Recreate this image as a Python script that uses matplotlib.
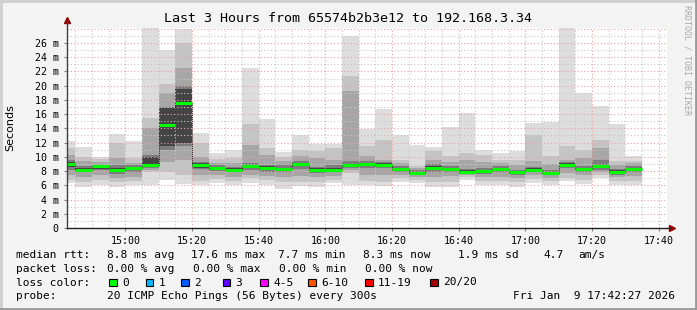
import numpy as np
import matplotlib
matplotlib.use("Agg")
import matplotlib.pyplot as plt
from matplotlib import patches as mpatches

# 5 minute bins (bar start), smoke layer edges in ms, outer -> inner
bins = ["14:40", "14:45", "14:50", "14:55", "15:00", "15:05", "15:10", "15:15",
        "15:20", "15:25", "15:30", "15:35", "15:40", "15:45", "15:50", "15:55",
        "16:00", "16:05", "16:10", "16:15", "16:20", "16:25", "16:30", "16:35",
        "16:40", "16:45", "16:50", "16:55", "17:00", "17:05", "17:10", "17:15",
        "17:20", "17:25", "17:30"]
ping_min = [6.3, 5.8, 6.1, 5.7, 6.1, 6.1, 6.8, 6.2, 6.1, 6.3, 6.0, 6.3, 6.1, 5.5, 5.85, 5.7,
            6.3, 6.1, 6.0, 5.85, 6.5, 6.3, 5.7, 5.7, 6.8, 6.1, 6.1, 5.7, 6.3, 6.1, 6.55, 6.2,
            7.0, 6.0, 6.0]
l2_lo = [6.8, 6.5, 6.7, 6.4, 6.6, 7.9, 7.8, 7.5, 6.6, 6.9, 6.6, 7.0, 6.7, 6.4, 6.5, 6.4,
         6.8, 7.7, 6.6, 6.5, 7.0, 6.8, 6.4, 6.5, 7.1, 6.6, 6.6, 6.4, 6.9, 6.6, 7.0, 6.8,
         7.4, 6.6, 6.6]
l3_lo = [7.4, 7.2, 7.4, 7.0, 7.2, 8.2, 9.3, 9.5, 7.5, 7.5, 7.2, 7.5, 7.3, 7.1, 7.3, 7.1,
         7.3, 8.1, 7.5, 7.4, 7.5, 7.1, 7.1, 7.3, 7.4, 7.2, 7.2, 7.0, 7.5, 7.0, 7.7, 7.4,
         7.8, 7.1, 7.3]
l4_lo = [8.2, 7.8, 8.1, 7.6, 7.9, 8.5, 11.0, 11.5, 8.3, 8.0, 7.8, 8.1, 7.9, 7.8, 8.3, 7.7,
         7.8, 8.5, 8.5, 8.4, 7.9, 7.4, 7.9, 7.9, 7.6, 7.6, 7.8, 7.4, 7.9, 7.4, 8.4, 7.9,
         8.2, 7.5, 7.9]
l5_lo = [8.6, 7.9, 8.3, 7.9, 8.1, 8.7, 11.5, 12.0, 8.5, 8.2, 7.9, 8.4, 8.2, 8.0, 8.7, 8.0,
         8.0, 8.6, 8.8, 8.6, 8.1, 7.5, 8.2, 8.1, 7.7, 7.8, 8.1, 7.6, 8.0, 7.5, 8.6, 8.1,
         8.4, 7.7, 8.1]
median = [9.0, 8.2, 8.65, 8.2, 8.4, 8.9, 14.5, 17.6, 8.9, 8.4, 8.2, 8.65, 8.4, 8.3, 9.0, 8.2,
          8.2, 8.8, 9.0, 8.9, 8.3, 7.7, 8.5, 8.3, 7.9, 8.0, 8.3, 7.8, 8.2, 7.7, 8.9, 8.3,
          8.65, 7.9, 8.3]
l5_hi = [9.3, 8.5, 8.8, 8.5, 8.6, 10.0, 16.8, 19.5, 9.1, 8.6, 8.4, 8.9, 8.7, 8.5, 9.2, 8.4,
         8.5, 9.0, 9.2, 9.1, 8.5, 7.9, 8.7, 8.5, 8.1, 8.2, 8.5, 8.0, 8.4, 7.9, 9.1, 8.5,
         8.9, 8.1, 8.5]
l4_hi = [9.5, 8.7, 8.9, 8.9, 8.8, 10.2, 17.0, 20.0, 9.3, 8.8, 8.6, 9.1, 8.9, 8.8, 9.4, 8.6,
         8.8, 9.4, 9.4, 9.3, 8.7, 8.1, 9.0, 8.7, 8.3, 8.4, 8.7, 8.2, 8.6, 8.1, 9.3, 8.7,
         9.6, 8.3, 8.7]
l3_hi = [10.3, 9.4, 9.3, 9.8, 9.2, 14.0, 19.0, 22.5, 10.0, 9.2, 9.2, 11.7, 10.3, 9.4, 10.1, 9.8,
         9.6, 19.2, 10.1, 9.6, 9.1, 8.4, 9.6, 9.3, 9.6, 9.3, 9.2, 8.9, 9.4, 9.0, 9.6, 9.8,
         11.2, 8.9, 9.1]
l2_hi = [11.2, 10.0, 9.7, 12.0, 9.8, 15.5, 20.3, 26.0, 11.9, 9.7, 9.9, 14.6, 11.2, 10.0, 10.9, 10.8,
         11.2, 21.3, 11.5, 12.4, 9.6, 8.65, 10.8, 10.1, 10.5, 10.3, 9.6, 9.6, 13.1, 10.1, 11.5, 11.0,
         12.3, 9.4, 9.45]
ping_max = [12.2, 11.4, 10.0, 13.2, 12.2, 28.5, 25.0, 28.0, 13.3, 10.5, 11.0, 22.5, 15.3, 10.7, 13.0, 11.8,
            11.8, 27.0, 13.9, 16.75, 13.0, 11.7, 11.4, 14.2, 16.1, 11.0, 10.5, 10.85, 14.7, 14.9, 28.5, 18.9,
            17.1, 14.6, 10.15]

title = "Last 3 Hours from 65574b2b3e12 to 192.168.3.34"
t_start, t_end = "14:42:27", "17:42:27"
y_ticks = list(range(0, 27, 2))
x_ticks = ["15:00", "15:20", "15:40", "16:00", "16:20", "16:40", "17:00", "17:20", "17:40"]

loss_labels = ["0", "1", "2", "3", "4-5", "6-10", "11-19", "20/20"]
loss_colors = ["#00ff00", "#00b8ff", "#0059ff", "#5e00ff", "#ff00ff", "#ff5500", "#ff0000", "#a10000"]


def to_min(s):
    p = [int(v) for v in s.split(":")]
    return p[0] * 60 + p[1] + (p[2] / 60 if len(p) > 2 else 0)


x0 = np.array([to_min(b) for b in bins])
xmin, xmax = to_min(t_start), to_min(t_end)

W, H = 697, 310
bg = "#f3f3f3"
mono = "DejaVu Sans Mono"
fig = plt.figure(figsize=(W / 100, H / 100), dpi=100, facecolor=bg)
ax = fig.add_axes([67 / W, 82 / H, 600 / W, 200 / H])
ax.set_facecolor("white")
ax.set_xlim(xmin, xmax)
ax.set_ylim(0, 28.1)

# smoke, outer (light) to inner (dark)
layers = [(ping_min, ping_max, "#dddddd"), (l2_lo, l2_hi, "#c4c4c4"),
          (l3_lo, l3_hi, "#a6a6a6"), (l4_lo, l4_hi, "#7c7c7c"), (l5_lo, l5_hi, "#444444")]
for lo, hi, col in layers:
    lo = np.array(lo); hi = np.array(hi)
    ax.bar(x0, hi - lo, bottom=lo, width=5, align="edge", color=col, lw=0, zorder=1)

# grid on top of smoke
for v in np.arange(1, 28.1, 1):
    maj = int(v) % 2 == 0
    ax.axhline(v, color="#f0a0a0" if maj else "#c8c8c8", lw=0.8, ls=(0, (1, 2)), zorder=2)
for t in np.arange(14 * 60 + 45, xmax, 5):
    maj = int(t) % 20 == 0
    ax.axvline(t, color="#f0a0a0" if maj else "#c8c8c8", lw=0.8, ls=(0, (1, 2)), zorder=2)

# median: step connector + green segments
ax.plot(np.append(x0, x0[-1] + 5), np.append(median, median[-1]), drawstyle="steps-post",
        color="#202020", lw=0.7, ls=(0, (1, 1)), zorder=3)
ax.hlines(median, x0, x0 + 5, color="#00ff00", lw=2.2, zorder=4)

for s in ax.spines.values():
    s.set_visible(False)
ax.plot([0, 0], [0, 1.035], transform=ax.transAxes, color="#404040", lw=1, clip_on=False, zorder=5)
ax.plot([0, 1.005], [0, 0], transform=ax.transAxes, color="#202020", lw=1, clip_on=False, zorder=5)
ax.plot([0], [1.04], marker="^", ms=5, color="#990000", transform=ax.transAxes, clip_on=False)
ax.plot([1.008], [0], marker=">", ms=5, color="#990000", transform=ax.transAxes, clip_on=False)

ax.set_yticks(y_ticks)
ax.set_yticklabels(["0" if v == 0 else "%d m" % v for v in y_ticks], family=mono, fontsize=7.2)
ax.set_xticks([to_min(t) for t in x_ticks])
ax.set_xticklabels(x_ticks, family=mono, fontsize=7.2)
ax.tick_params(length=2, width=0.8, color="#808080", pad=4)

fig.text(10.5 / W, 1 - 128 / H, "Seconds", rotation=90, fontsize=8, ha="center", va="center")
fig.text(348 / W, 1 - 19 / H, title, family=mono, fontsize=9.6, ha="center", va="center")
fig.text(687 / W, 1 - 60 / H, "RRDTOOL / TOBI OETIKER", rotation=270, family=mono, fontsize=6,
         color="#a8a8a8", ha="center", va="center")


def row(y, items):
    for x, s in items:
        fig.text(x / W, 1 - y / H, s, family=mono, fontsize=8.0, ha="left", va="center")


row(255, [(16, "median rtt:"), (107, "8.8 ms avg"), (191, "17.6 ms max"), (277.5, "7.7 ms min"),
          (362.5, "8.3 ms now"), (457.5, "1.9 ms sd"), (543, "4.7"), (578, "am/s")])
row(268.5, [(16, "packet loss:"), (107, "0.00 % avg"), (193, "0.00 % max"), (279, "0.00 % min"),
            (365, "0.00 % now")])
row(282.5, [(16, "loss color:")])
box_x = [109, 145.7, 181.5, 222.5, 260, 308.3, 365, 430]
for bx, lab, col in zip(box_x, loss_labels, loss_colors):
    fig.patches.append(mpatches.Rectangle((bx / W, 1 - 286 / H), 7.5 / W, 7.5 / H, transform=fig.transFigure,
                                          facecolor=col, edgecolor="black", lw=0.8))
    row(282.5, [(bx + 13, lab)])
row(296, [(16, "probe:"), (107, "20 ICMP Echo Pings (56 Bytes) every 300s"),
          (513, "Fri Jan  9 17:42:27 2026")])

# image frame
fig.add_artist(plt.Line2D([0, 1], [0.997, 0.997], color="#cfcfcf", lw=2))
fig.add_artist(plt.Line2D([0.001, 0.001], [0, 1], color="#cfcfcf", lw=2))
fig.add_artist(plt.Line2D([0, 1], [0.003, 0.003], color="#9a9a9a", lw=2))
fig.add_artist(plt.Line2D([0.999, 0.999], [0, 1], color="#9a9a9a", lw=2))

fig.savefig("out.png", dpi=100, facecolor=bg)
